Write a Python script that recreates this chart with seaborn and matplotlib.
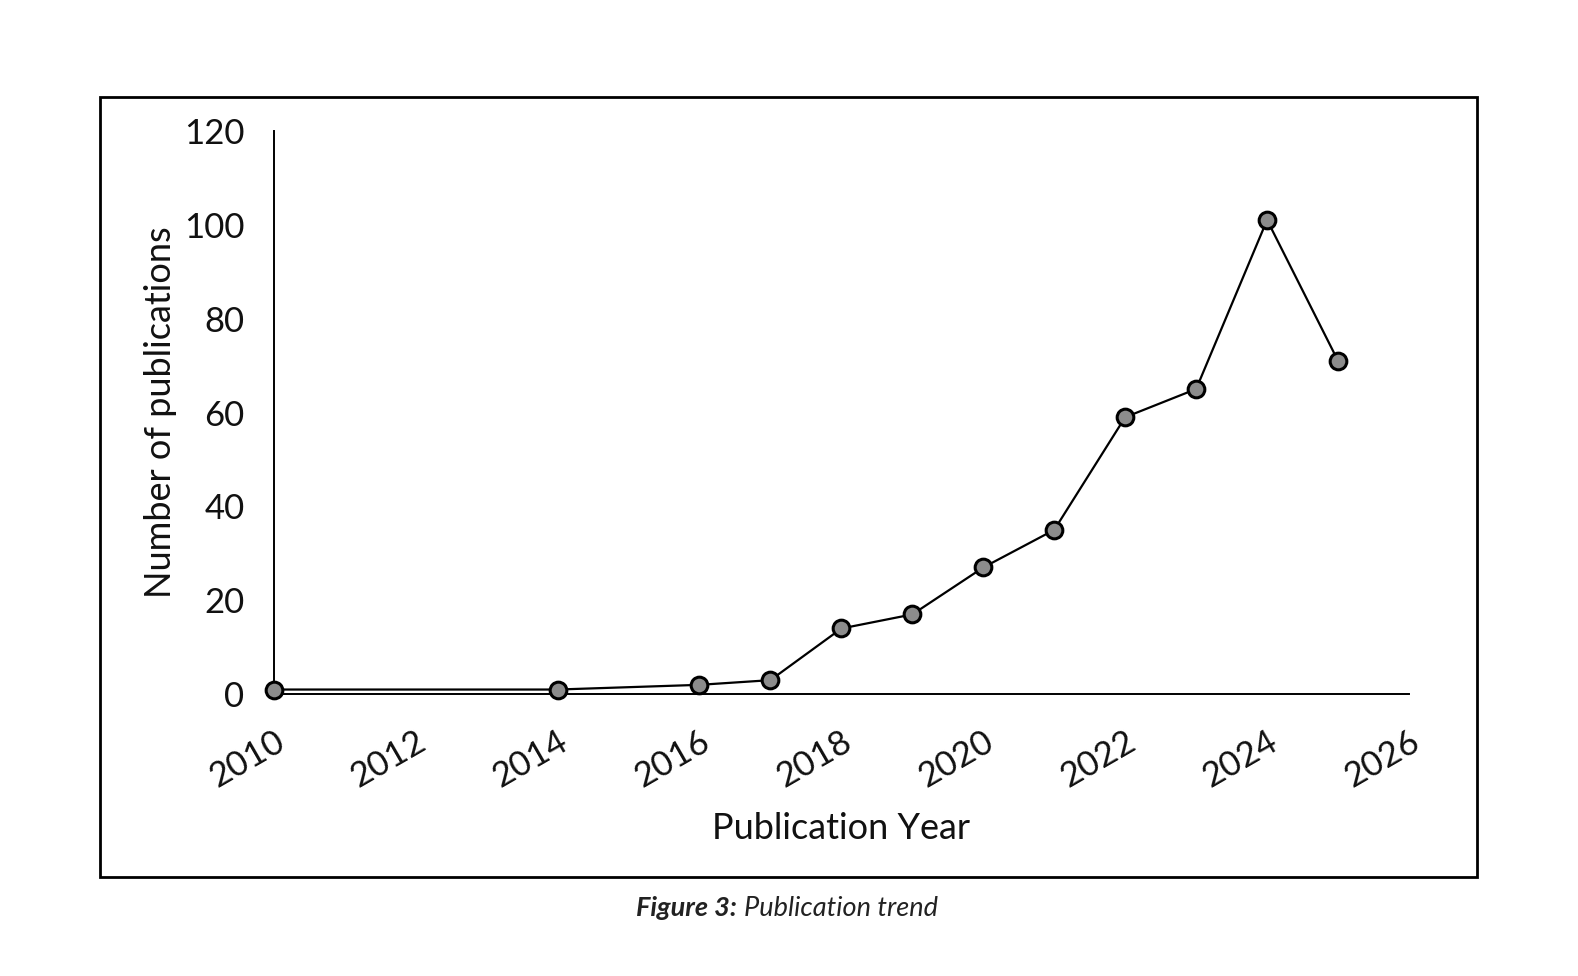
import pandas as pd
import seaborn as sns
import numpy as np
import matplotlib.pyplot as plt
from matplotlib.patches import Rectangle

# Data
years = [2010, 2014, 2016, 2017, 2018, 2019, 2020, 2021, 2022, 2023, 2024, 2025]
counts = [1, 1, 2, 3, 14, 17, 27, 35, 59, 65, 101, 71]
x_ticks = [2010, 2012, 2014, 2016, 2018, 2020, 2022, 2024, 2026]
y_ticks = [0, 20, 40, 60, 80, 100, 120]

df = pd.DataFrame({'Publication Year': years, 'Number of publications': counts})

sns.set_style('white')
plt.rcParams['font.family'] = ['Lato', 'DejaVu Sans']

fig = plt.figure(figsize=(15.78, 9.76), dpi=100)
ax = fig.add_axes([0.1735, 0.2887, 0.7194, 0.5773])

sns.lineplot(data=df, x='Publication Year', y='Number of publications', ax=ax,
             color='black', linewidth=1.6, marker='o', markersize=12,
             markerfacecolor='#8c8c8c', markeredgecolor='black', markeredgewidth=2.2,
             clip_on=False, zorder=5)

ax.set_xlim(2010, 2026)
ax.set_ylim(0, 120)
ax.set_xticks(x_ticks)
ax.set_yticks(y_ticks)
ax.tick_params(axis='both', length=0, labelsize=25, labelcolor='#111111')
ax.tick_params(axis='x', labelrotation=30, pad=22)
ax.tick_params(axis='y', pad=21)
for lbl in ax.get_xticklabels():
    lbl.set_ha('right')
    lbl.set_rotation_mode('anchor')

sns.despine(ax=ax)
for s in ['left', 'bottom']:
    ax.spines[s].set_color('black')
    ax.spines[s].set_linewidth(1.4)
ax.set_xlabel('Publication Year', fontsize=26, labelpad=14, color='#111111')
ax.set_ylabel('Number of publications', fontsize=26, labelpad=5, color='#111111')

# outer frame around the chart
fig.patches.append(Rectangle((0.0631, 0.101), 0.8731, 0.800, transform=fig.transFigure,
                             fill=False, edgecolor='black', linewidth=2))

# caption: bold part then regular italic part
cap1 = fig.text(0.403, 0.061, 'Figure 3:', fontsize=19.5, fontweight='bold', style='italic',
                ha='left', color='#222222')
fig.canvas.draw()
bb = cap1.get_window_extent()
x2 = (bb.x1 + 7) / fig.bbox.width
fig.text(x2, 0.061, 'Publication trend', fontsize=19.5, style='italic', ha='left', color='#222222')

plt.savefig('out.png', dpi=100)
